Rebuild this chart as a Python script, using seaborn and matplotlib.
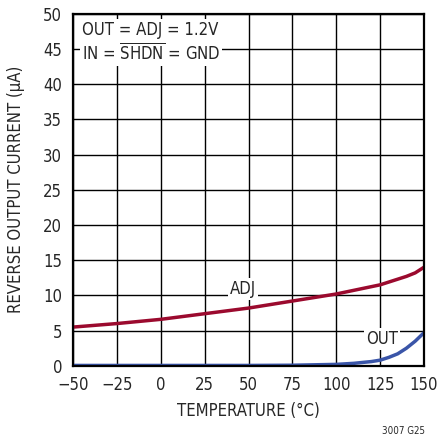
import numpy as np
import pandas as pd
import matplotlib.pyplot as plt
import seaborn as sns

# curves
temp_adj = [-50, -25, 0, 25, 50, 75, 100, 125, 130, 135, 140, 145, 150]
adj_ua = [5.5, 6.0, 6.6, 7.4, 8.2, 9.2, 10.2, 11.5, 11.9, 12.3, 12.7, 13.2, 14.0]

temp_out = [-50, 0, 50, 75, 100, 110, 120, 125, 130, 135, 140, 145, 150]
out_ua = [0.05, 0.05, 0.05, 0.08, 0.2, 0.35, 0.6, 0.8, 1.2, 1.7, 2.5, 3.5, 4.7]

x_ticks = [-50, -25, 0, 25, 50, 75, 100, 125, 150]
y_ticks = [0, 5, 10, 15, 20, 25, 30, 35, 40, 45, 50]

sns.set_style("white")
plt.rcParams["font.family"] = ["DejaVu Sans"]
plt.rcParams["font.stretch"] = "condensed"
plt.rcParams["mathtext.fontset"] = "custom"
plt.rcParams["mathtext.rm"] = "DejaVu Sans:stretch=condensed"

fig = plt.figure(figsize=(4.38, 4.45), dpi=100)
ax = fig.add_axes([0.167, 0.178, 0.801, 0.791])

df_adj = pd.DataFrame({"T": temp_adj, "I": adj_ua})
df_out = pd.DataFrame({"T": temp_out, "I": out_ua})
sns.lineplot(data=df_adj, x="T", y="I", ax=ax, color="#9b0a2e", lw=2.5, zorder=3)
sns.lineplot(data=df_out, x="T", y="I", ax=ax, color="#3a55a8", lw=2.5, zorder=3)

ax.set_xlim(-50, 150)
ax.set_ylim(0, 50)
ax.set_xticks(x_ticks)
ax.set_yticks(y_ticks)
ax.set_xticklabels(["\u221250", "\u221225"] + [str(t) for t in x_ticks[2:]])
ax.grid(True, color="black", lw=1)
ax.tick_params(labelsize=12, length=0)
ax.tick_params(axis="x", pad=7)
ax.tick_params(axis="y", pad=8)
for s in ax.spines.values():
    s.set_color("black")
    s.set_linewidth(1.6)
    s.set_zorder(4)

ax.set_xlabel("TEMPERATURE (\u00b0C)", fontsize=12, labelpad=6)
ax.set_ylabel("REVERSE OUTPUT CURRENT (\u00b5A)", fontsize=12, labelpad=13)

box = dict(facecolor="white", edgecolor="none", pad=1.5)
ax.text(-45, 45.9, "OUT = ADJ = 1.2V\n" + r"IN = $\overline{\mathrm{SHDN}}$ = GND", fontsize=12,
        va="center", ha="left", linespacing=1.25, bbox=box, zorder=5)
ax.text(47, 10.9, "ADJ", fontsize=12, ha="center", va="center", bbox=box, zorder=5)
ax.text(126, 3.8, "OUT", fontsize=12, ha="center", va="center", bbox=box, zorder=5)

fig.text(0.97, 0.02, "3007 G25", fontsize=7, ha="right", va="bottom")

fig.savefig("out.png", dpi=100)
